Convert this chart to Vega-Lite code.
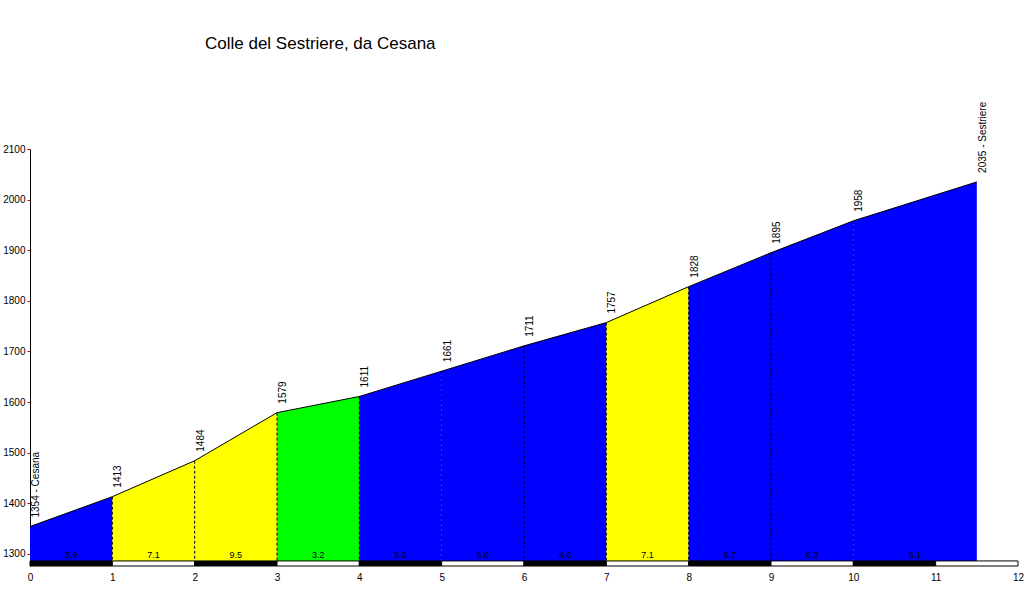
{
  "$schema": "https://vega.github.io/schema/vega-lite/v6.json",
  "autosize": {"type": "none"},
  "width": 988,
  "height": 417,
  "padding": {"left": 30, "top": 149, "right": 6, "bottom": 40},
  "background": "white",
  "view": {"stroke": null},
  "title": {
    "text": "Colle del Sestriere, da Cesana",
    "anchor": "start",
    "frame": "group",
    "dx": 175,
    "offset": 49,
    "font": "Liberation Sans",
    "fontSize": 17,
    "fontWeight": "normal",
    "color": "black"
  },
  "config": {
    "font": "Liberation Sans",
    "axis": {"labelFont": "Liberation Sans", "labelColor": "black"}
  },
  "datasets": {
    "profile": [
      {"km": 0, "elev": 1354, "label": "1354 - Cesana"},
      {"km": 1, "elev": 1413, "label": "1413"},
      {"km": 2, "elev": 1484, "label": "1484"},
      {"km": 3, "elev": 1579, "label": "1579"},
      {"km": 4, "elev": 1611, "label": "1611"},
      {"km": 5, "elev": 1661, "label": "1661"},
      {"km": 6, "elev": 1711, "label": "1711"},
      {"km": 7, "elev": 1757, "label": "1757"},
      {"km": 8, "elev": 1828, "label": "1828"},
      {"km": 9, "elev": 1895, "label": "1895"},
      {"km": 10, "elev": 1958, "label": "1958"},
      {"km": 11.5, "elev": 2035, "label": "2035 - Sestriere"}
    ],
    "segments": [
      {"seg": 1, "km": 0, "elev": 1354, "band": "4-7%"},
      {"seg": 1, "km": 1, "elev": 1413, "band": "4-7%"},
      {"seg": 2, "km": 1, "elev": 1413, "band": "7-10%"},
      {"seg": 2, "km": 2, "elev": 1484, "band": "7-10%"},
      {"seg": 3, "km": 2, "elev": 1484, "band": "7-10%"},
      {"seg": 3, "km": 3, "elev": 1579, "band": "7-10%"},
      {"seg": 4, "km": 3, "elev": 1579, "band": "0-4%"},
      {"seg": 4, "km": 4, "elev": 1611, "band": "0-4%"},
      {"seg": 5, "km": 4, "elev": 1611, "band": "4-7%"},
      {"seg": 5, "km": 5, "elev": 1661, "band": "4-7%"},
      {"seg": 6, "km": 5, "elev": 1661, "band": "4-7%"},
      {"seg": 6, "km": 6, "elev": 1711, "band": "4-7%"},
      {"seg": 7, "km": 6, "elev": 1711, "band": "4-7%"},
      {"seg": 7, "km": 7, "elev": 1757, "band": "4-7%"},
      {"seg": 8, "km": 7, "elev": 1757, "band": "7-10%"},
      {"seg": 8, "km": 8, "elev": 1828, "band": "7-10%"},
      {"seg": 9, "km": 8, "elev": 1828, "band": "4-7%"},
      {"seg": 9, "km": 9, "elev": 1895, "band": "4-7%"},
      {"seg": 10, "km": 9, "elev": 1895, "band": "4-7%"},
      {"seg": 10, "km": 10, "elev": 1958, "band": "4-7%"},
      {"seg": 11, "km": 10, "elev": 1958, "band": "4-7%"},
      {"seg": 11, "km": 11.5, "elev": 2035, "band": "4-7%"}
    ],
    "grades": [
      {"from": 0, "to": 1, "grade": "5.9"},
      {"from": 1, "to": 2, "grade": "7.1"},
      {"from": 2, "to": 3, "grade": "9.5"},
      {"from": 3, "to": 4, "grade": "3.2"},
      {"from": 4, "to": 5, "grade": "5.0"},
      {"from": 5, "to": 6, "grade": "5.0"},
      {"from": 6, "to": 7, "grade": "4.6"},
      {"from": 7, "to": 8, "grade": "7.1"},
      {"from": 8, "to": 9, "grade": "6.7"},
      {"from": 9, "to": 10, "grade": "6.3"},
      {"from": 10, "to": 11.5, "grade": "5.1"}
    ],
    "strip": [
      {"from": 0, "to": 1, "shade": "dark"},
      {"from": 1, "to": 2, "shade": "light"},
      {"from": 2, "to": 3, "shade": "dark"},
      {"from": 3, "to": 4, "shade": "light"},
      {"from": 4, "to": 5, "shade": "dark"},
      {"from": 5, "to": 6, "shade": "light"},
      {"from": 6, "to": 7, "shade": "dark"},
      {"from": 7, "to": 8, "shade": "light"},
      {"from": 8, "to": 9, "shade": "dark"},
      {"from": 9, "to": 10, "shade": "light"},
      {"from": 10, "to": 11, "shade": "dark"},
      {"from": 11, "to": 12, "shade": "light"}
    ]
  },
  "encoding": {
    "x": {
      "field": "km", "type": "quantitative",
      "scale": {"domain": [0, 12], "nice": false, "zero": false},
      "axis": {"title": null, "values": [0,1,2,3,4,5,6,7,8,9,10,11,12], "format": "d", "domain": false, "ticks": false, "labelPadding": 6, "labelFontSize": 10, "grid": false, "labelFlush": false}
    }
  },
  "resolve": {"scale": {"color": "independent"}},
  "layer": [
    {
      "data": {"name": "segments"},
      "mark": {"type": "area", "line": false, "opacity": 1},
      "encoding": {
        "y": {
          "field": "elev", "type": "quantitative",
          "scale": {"domain": [1276, 2100], "nice": false, "zero": false},
          "axis": {"title": null, "values": [1300,1400,1500,1600,1700,1800,1900,2000,2100], "format": "d", "grid": false, "domainColor": "black", "tickColor": "#cc0000", "tickSize": 3, "labelPadding": 2, "labelFontSize": 10}
        },
        "y2": {"datum": 1276},
        "color": {
          "field": "band", "type": "nominal",
          "scale": {"domain": ["0-4%", "4-7%", "7-10%"], "range": ["#00ff00", "#0000ff", "#ffff00"]},
          "legend": null
        },
        "detail": {"field": "seg"}
      }
    },
    {
      "data": {"name": "profile"},
      "transform": [{"filter": "datum.km > 0 && datum.km < 11"}],
      "mark": {"type": "rule", "color": "black", "strokeWidth": 1, "strokeDash": [3, 2]},
      "encoding": {
        "y": {"field": "elev", "type": "quantitative"},
        "y2": {"datum": 1276}
      }
    },
    {
      "data": {"name": "profile"},
      "mark": {"type": "line", "color": "black", "strokeWidth": 1},
      "encoding": {
        "y": {"field": "elev", "type": "quantitative"}
      }
    },
    {
      "data": {"name": "profile"},
      "mark": {"type": "text", "angle": 270, "align": "left", "baseline": "top", "dx": 9, "dy": 1, "fontSize": 10, "color": "black"},
      "encoding": {
        "y": {"field": "elev", "type": "quantitative"},
        "text": {"field": "label"}
      }
    },
    {
      "data": {"name": "grades"},
      "transform": [{"calculate": "(datum.from + datum.to) / 2", "as": "mid"}],
      "mark": {"type": "text", "fontSize": 9, "color": "black", "baseline": "middle"},
      "encoding": {
        "x": {"field": "mid", "type": "quantitative"},
        "y": {"datum": 1298},
        "text": {"field": "grade"}
      }
    },
    {
      "data": {"name": "strip"},
      "mark": {"type": "rect", "stroke": "black", "strokeWidth": 1},
      "encoding": {
        "x": {"field": "from", "type": "quantitative"},
        "x2": {"field": "to"},
        "y": {"datum": 1276},
        "y2": {"datum": 1286},
        "fill": {
          "field": "shade", "type": "nominal",
          "scale": {"domain": ["dark", "light"], "range": ["black", "white"]},
          "legend": null
        }
      }
    }
  ]
}
